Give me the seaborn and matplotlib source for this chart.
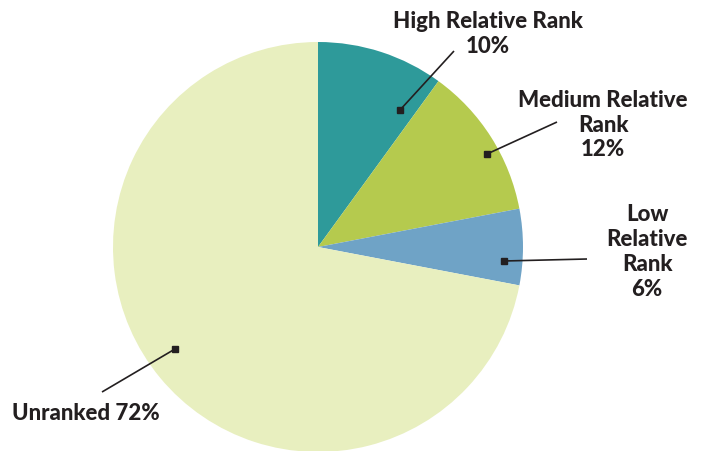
import matplotlib
matplotlib.use("Agg")
import matplotlib.pyplot as plt
import seaborn as sns
import numpy as np

# Share of items by relative rank
categories = ["High Relative Rank", "Medium Relative Rank", "Low Relative Rank", "Unranked"]
shares = [10, 12, 6, 72]
label_texts = ["High Relative Rank\n10%", "Medium Relative\nRank\n12%",
               "Low\nRelative\nRank\n6%", "Unranked 72%"]
colors = ["#2E9A9A", "#B5CA4E", "#6FA3C6", "#E8EFBF"]

sns.set_theme(style="white")
plt.rcParams["font.family"] = ["Lato", "DejaVu Sans"]

W, H = 707, 451
fig = plt.figure(figsize=(W / 100, H / 100), dpi=100)
cx, cy, r = 318, 247, 205
ax = fig.add_axes([(cx - r) / W, (H - cy - r) / H, 2 * r / W, 2 * r / H])

wedges, _ = ax.pie(shares, colors=colors, startangle=90, counterclock=False,
                   radius=1, wedgeprops=dict(linewidth=0))
ax.set_xlim(-1, 1)
ax.set_ylim(-1, 1)
ax.set_aspect("equal")
ax.axis("off")

def px(x, y):
    """Pixel position -> data coordinates of the pie axes."""
    return ((x - cx) / r, (cy - y) / r)

# leader anchor (on wedge), leader end, text position, alignment
layout = [
    (px(400, 110), px(454, 51), px(488, 34), "center"),
    (px(487, 154), px(557, 122), px(603, 125), "center"),
    (px(504, 261), px(587, 259), px(647, 252), "center"),
    (px(175, 349), px(102, 392), px(12, 414), "left"),
]

for text, (a, b, t, ha) in zip(label_texts, layout):
    ax.plot([a[0], b[0]], [a[1], b[1]], color="#231F20", lw=1.2,
            solid_capstyle="butt", clip_on=False)
    ax.plot([a[0]], [a[1]], marker="s", ms=4.5, color="#231F20", clip_on=False)
    ax.text(t[0], t[1], text, ha=ha, va="center", multialignment="center",
            fontsize=16, fontweight="black", color="#231F20",
            linespacing=1.22, clip_on=False)

fig.savefig("out.png", dpi=100)
